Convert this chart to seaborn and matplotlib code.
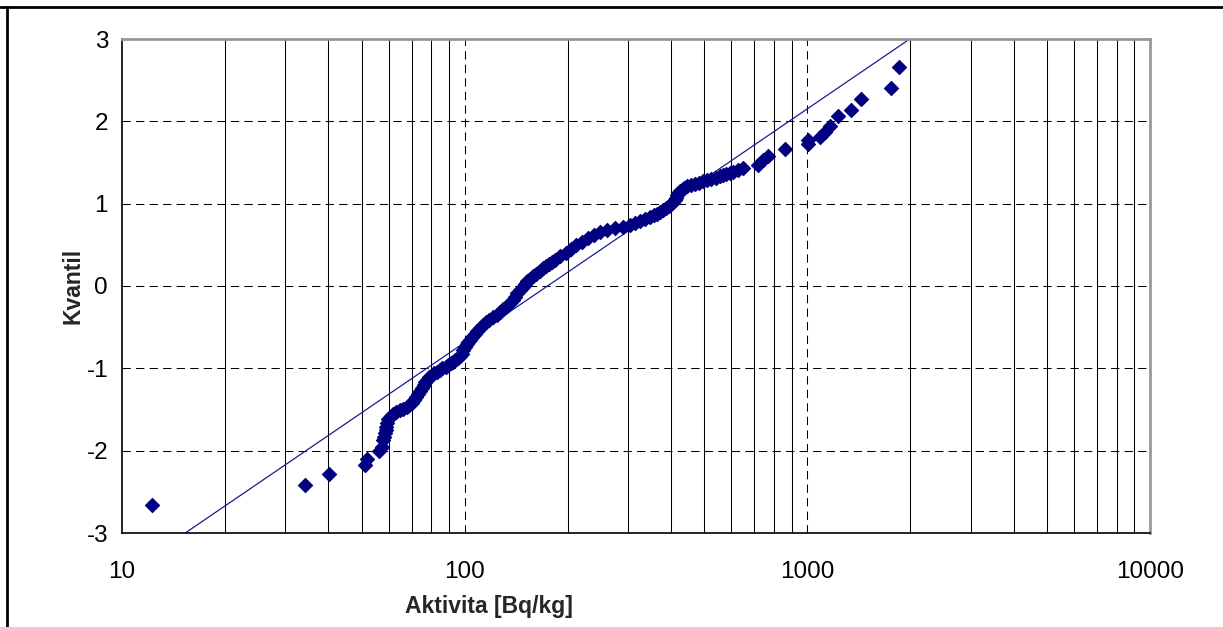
import numpy as np
import pandas as pd
import matplotlib
matplotlib.use("Agg")
import matplotlib.pyplot as plt
from matplotlib.lines import Line2D
from matplotlib.ticker import FixedLocator, NullFormatter
import seaborn as sns

# activity values [Bq/kg] and their normal quantiles
aktivita = [12.2, 34.3, 40.3, 51.1, 51.9, 56.2, 57.3, 57.8, 58.2, 58.5,
            58.8, 59.1, 59.4, 59.8, 60.8, 61.8, 63.2, 64.7, 66.0, 67.7,
            69.0, 70.0, 71.0, 72.0, 73.0, 74.1, 75.0, 76.0, 76.8, 77.5,
            78.7, 80.0, 81.4, 82.9, 84.5, 86.0, 88.0, 89.5, 91.0, 92.5,
            94.0, 95.8, 97.0, 98.0, 99.2, 100.2, 101.3, 102.5, 103.6, 104.8,
            107.0, 109.0, 111.0, 113.3, 115.6, 118.0, 121.0, 123.9, 126.5, 129.0,
            132.0, 135.5, 138.0, 140.0, 142.5, 145.0, 147.5, 150.0, 152.5, 155.0,
            158.5, 162.0, 166.0, 169.6, 173.0, 176.0, 180.0, 183.6, 190.0, 197.0,
            204.0, 212.0, 220.0, 229.0, 238.0, 248.0, 261.0, 275.0, 289.0, 304.0,
            314.0, 325.0, 336.0, 347.0, 356.0, 365.0, 372.0, 380.0, 388.0, 395.0,
            401.0, 406.0, 410.0, 414.0, 417.0, 420.0, 425.0, 430.0, 437.0, 444.0,
            457.0, 470.0, 483.0, 497.0, 511.0, 525.0, 540.0, 556.0, 568.0, 580.0,
            594.0, 608.0, 629.0, 650.0, 719.0, 744.0, 769.0, 860.0, 1007.0, 1007.0,
            1089.0, 1125.0, 1164.0, 1231.0, 1340.0, 1433.0, 1749.0, 1850.0]
kvantil = [-2.66, -2.42, -2.28, -2.18, -2.10, -2.00, -1.95, -1.87, -1.83, -1.79,
           -1.75, -1.71, -1.66, -1.61, -1.58, -1.55, -1.53, -1.51, -1.49, -1.47,
           -1.45, -1.42, -1.39, -1.35, -1.31, -1.28, -1.24, -1.20, -1.17, -1.14,
           -1.11, -1.09, -1.06, -1.04, -1.02, -1.00, -0.98, -0.96, -0.94, -0.92,
           -0.90, -0.88, -0.85, -0.82, -0.78, -0.74, -0.71, -0.68, -0.65, -0.62,
           -0.58, -0.55, -0.51, -0.47, -0.44, -0.41, -0.38, -0.35, -0.31, -0.28,
           -0.25, -0.21, -0.17, -0.13, -0.09, -0.05, -0.01, 0.02, 0.055, 0.09,
           0.12, 0.15, 0.18, 0.215, 0.245, 0.27, 0.295, 0.315, 0.36, 0.40,
           0.45, 0.50, 0.54, 0.58, 0.62, 0.66, 0.68, 0.70, 0.72, 0.74,
           0.765, 0.79, 0.815, 0.84, 0.86, 0.88, 0.90, 0.92, 0.945, 0.97,
           0.995, 1.02, 1.045, 1.07, 1.10, 1.125, 1.15, 1.17, 1.19, 1.21,
           1.225, 1.24, 1.255, 1.27, 1.285, 1.30, 1.315, 1.33, 1.345, 1.36,
           1.375, 1.39, 1.41, 1.43, 1.47, 1.53, 1.58, 1.66, 1.72, 1.77,
           1.81, 1.87, 1.94, 2.06, 2.14, 2.27, 2.41, 2.66]

# fitted lognormal line (end points)
primka_x = [15.3, 1990.0]
primka_y = [-3.0, 3.0]

x_ticks = [10, 100, 1000, 10000]
y_ticks = [-3, -2, -1, 0, 1, 2, 3]

df = pd.DataFrame({"Aktivita": aktivita, "Kvantil": kvantil})
line_df = pd.DataFrame({"x": primka_x, "y": primka_y})

sns.set_style("white")
plt.rcParams['font.family'] = ['Liberation Sans', 'DejaVu Sans']
plt.rcParams['axes.unicode_minus'] = False

fig = plt.figure(figsize=(12.23, 6.27), dpi=100)
ax = fig.add_axes([122/1223, 1-533/627, (1150-122)/1223, (533-39)/627])

ax.set_xscale("log")
ax.set_xlim(10, 10000)
ax.set_ylim(-3, 3)

# grid: solid minor verticals, dashed majors
minor_x = [m*d for d in (10, 100, 1000) for m in range(2, 10)]
for v in minor_x:
    ax.axvline(v, color="black", lw=0.75, zorder=1)
for v in (100, 1000):
    ax.axvline(v, color="black", lw=0.75, ls=(0, (8, 5)), zorder=1)
for v in (-2, -1, 0, 1, 2):
    ax.axhline(v, color="black", lw=0.75, ls=(0, (8, 5)), zorder=1)

sns.lineplot(data=line_df, x="x", y="y", ax=ax, color="#1a1a99", lw=0.9, zorder=2)
sns.scatterplot(data=df, x="Aktivita", y="Kvantil", ax=ax, marker="D", s=52,
                color="#000080", edgecolor="#000080", linewidth=0.8, zorder=3)

ax.xaxis.set_major_locator(FixedLocator(x_ticks))
ax.xaxis.set_minor_formatter(NullFormatter())
ax.xaxis.set_minor_locator(FixedLocator([]))
ax.set_xticklabels([str(t) for t in x_ticks])
ax.set_yticks(y_ticks)
ax.set_yticklabels([str(t) for t in y_ticks])
ax.tick_params(axis="both", which="major", direction="out", length=6, width=1,
               color="black", labelsize=17.5, labelcolor="black")
ax.tick_params(axis="x", pad=14)
ax.tick_params(axis="y", pad=4)

for s in ("left", "bottom"):
    ax.spines[s].set_color("black")
    ax.spines[s].set_linewidth(1.2)
for s in ("top", "right"):
    ax.spines[s].set_color("#999999")
    ax.spines[s].set_linewidth(2)

ax.set_xlabel("Aktivita [Bq/kg]", fontsize=16.5, fontweight="bold")
ax.set_ylabel("Kvantil", fontsize=16.5, fontweight="bold")
ax.xaxis.set_label_coords((489-122)/1028, -(606-533)/494)
ax.yaxis.set_label_coords(-(122-73)/1028, 0.5)
ax.xaxis.label.set_va("center")
ax.yaxis.label.set_va("center")

# border of the surrounding table cell
fig.add_artist(Line2D([0, 1], [1-6.5/627, 1-6.5/627], color="black", lw=2))
fig.add_artist(Line2D([7/1223, 7/1223], [0, 1-6.5/627], color="black", lw=2))

fig.savefig("out.png", dpi=100)
